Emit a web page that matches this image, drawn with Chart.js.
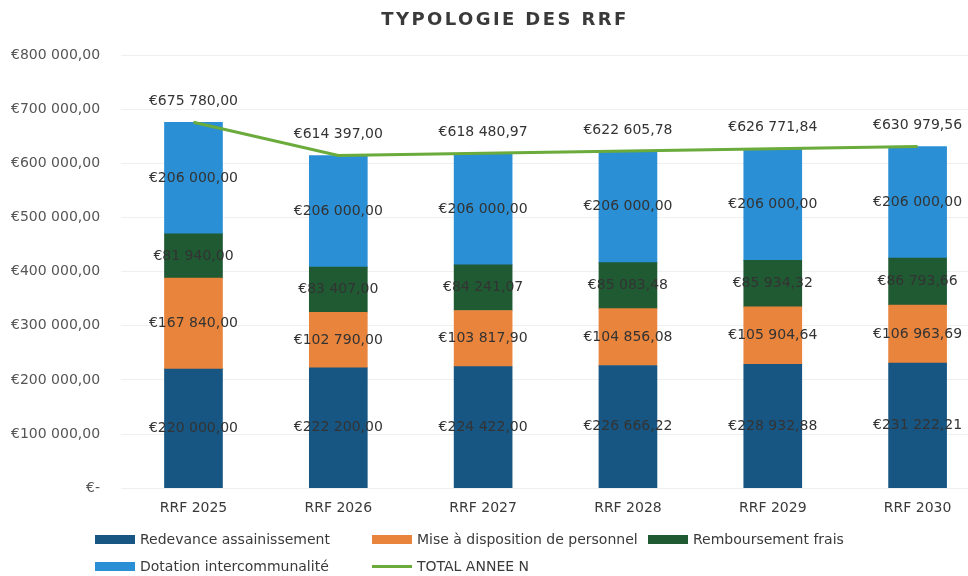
<!DOCTYPE html>
<html>
<head>
<meta charset="utf-8">
<script src="https://cdn.jsdelivr.net/npm/chart.js@4"></script>
<style>
  html,body{margin:0;padding:0;background:#fff;overflow:hidden;}
  #wrap{position:relative;width:992px;height:576px;}
  #legend{position:absolute;left:0;top:0;width:968px;height:576px;pointer-events:none;
    font-family:"DejaVu Sans",sans-serif;font-size:14px;color:#3a3a3a;}
  .li{position:absolute;display:flex;align-items:center;white-space:nowrap;}
  .sw{display:inline-block;width:40px;height:9px;margin-right:5px;}
  .ln{display:inline-block;width:40px;height:3px;margin-right:5px;}
</style>
</head>
<body>
<div id="wrap">
  <canvas id="c" width="992" height="576"></canvas>
  <div id="legend"></div>
</div>
<script>
  // ── DATA ───────────────────────────────────────────────
  const years      = ['RRF 2025','RRF 2026','RRF 2027','RRF 2028','RRF 2029','RRF 2030'];
  const redevance  = [220000, 222200, 224422, 226666.22, 228932.88, 231222.21];
  const miseDispo  = [167840, 102790, 103817.90, 104856.08, 105904.64, 106963.69];
  const rembFrais  = [81940, 83407, 84241.07, 85083.48, 85934.32, 86793.66];
  const dotation   = [206000, 206000, 206000, 206000, 206000, 206000];
  const totalAnnee = [675780, 614397, 618480.97, 622605.78, 626771.84, 630979.56];
  const yTicks     = [0,100000,200000,300000,400000,500000,600000,700000,800000];
  const chartTitle = 'TYPOLOGIE DES RRF';

  const FONT = '"DejaVu Sans", sans-serif';

  function fmt(n) {
    const [i, d] = Number(n).toFixed(2).split('.');
    return '€' + i.replace(/\B(?=(\d{3})+(?!\d))/g, ' ') + ',' + d;
  }

  // data labels + spaced title, drawn by hand
  const labelPlugin = {
    id: 'labels',
    afterDatasetsDraw(chart) {
      const ctx = chart.ctx;
      ctx.save();
      ctx.font = '14px ' + FONT;
      ctx.fillStyle = '#333';
      ctx.textAlign = 'center';
      ctx.textBaseline = 'middle';
      chart.data.datasets.forEach((ds, di) => {
        const meta = chart.getDatasetMeta(di);
        meta.data.forEach((el, i) => {
          const txt = fmt(ds.data[i]);
          if (ds.type === 'line') ctx.fillText(txt, el.x, el.y - 21);
          else ctx.fillText(txt, el.x, (el.y + el.base) / 2);
        });
      });
      ctx.restore();
    },
    afterDraw(chart) {
      const ctx = chart.ctx;
      ctx.save();
      ctx.font = 'bold 18px ' + FONT;
      ctx.letterSpacing = '2.4px';
      ctx.fillStyle = '#3a3a3a';
      ctx.textAlign = 'center';
      ctx.textBaseline = 'middle';
      ctx.fillText(chartTitle, 505, 20);
      ctx.restore();
    }
  };

  const datasets = [
    { label:'Redevance assainissement', data:redevance, backgroundColor:'#175683', stack:'s', order:1 },
    { label:'Mise à disposition de personnel', data:miseDispo, backgroundColor:'#e8843c', stack:'s', order:1 },
    { label:'Remboursement frais', data:rembFrais, backgroundColor:'#1f5a33', stack:'s', order:1 },
    { label:'Dotation intercommunalité', data:dotation, backgroundColor:'#2a8fd4', stack:'s', order:1 },
    { type:'line', label:'TOTAL ANNEE N', data:totalAnnee, borderColor:'#6aab3c', backgroundColor:'#6aab3c',
      borderWidth:3, pointRadius:0, tension:0, order:0 },
  ];

  new Chart(document.getElementById('c').getContext('2d'), {
    type: 'bar',
    data: { labels: years, datasets },
    plugins: [labelPlugin],
    options: {
      responsive: false,
      animation: false,
      layout: { padding: { left: -10, right: 2, top: 55, bottom: 55 } },
      datasets: { bar: { barThickness: 58 } },
      plugins: {
        legend: { display: false },
        tooltip: { enabled: false },
        title: { display: false }
      },
      scales: {
        x: {
          stacked: true,
          grid: { display: false },
          border: { display: false },
          ticks: { color: '#3a3a3a', font: { family: FONT, size: 14 }, padding: 4 }
        },
        y: {
          stacked: true, min: 0, max: 800000,
          afterBuildTicks: ax => { ax.ticks = yTicks.map(v => ({ value: v })); },
          grid: { color: '#efefef', drawTicks: false },
          border: { display: false },
          ticks: {
            color: '#555', padding: 21,
            font: { family: FONT, size: 14 },
            callback: v => v === 0 ? '€-' : fmt(v)
          }
        }
      }
    }
  });

  // legend in two rows like the reference
  const legendPos = [[95,540],[372,540],[648,540],[95,567],[372,567]];
  const lg = document.getElementById('legend');
  datasets.forEach((ds, i) => {
    const d = document.createElement('div');
    d.className = 'li';
    d.style.left = legendPos[i][0] + 'px';
    d.style.top = (legendPos[i][1] - 9) + 'px';
    const sw = document.createElement('span');
    sw.className = ds.type === 'line' ? 'ln' : 'sw';
    sw.style.background = ds.type === 'line' ? ds.borderColor : ds.backgroundColor;
    d.appendChild(sw);
    d.appendChild(document.createTextNode(ds.label));
    lg.appendChild(d);
  });
</script>
</body>
</html>
